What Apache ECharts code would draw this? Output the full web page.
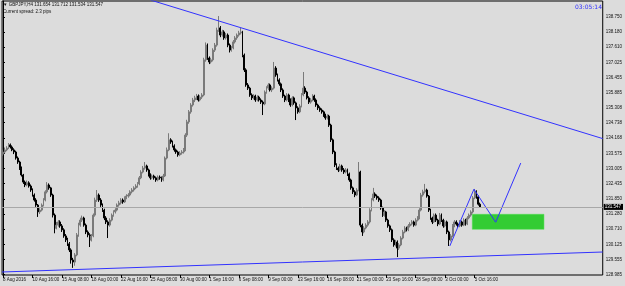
<!DOCTYPE html>
<html><head><meta charset="utf-8">
<script src="https://cdn.jsdelivr.net/npm/echarts@6/dist/echarts.min.js"></script>
<style>html,body{margin:0;padding:0;background:#dcdcdc}#c{width:625px;height:286px}</style>
</head><body><div id="c"></div>
<script>
const opens = [
133.55,133.63,133.71,133.78,133.90,133.82,133.71,133.63,133.40,133.25,
133.02,132.76,132.49,132.38,132.46,132.34,132.19,132.00,131.81,131.62,
131.36,131.43,131.62,131.81,132.12,132.38,132.27,132.00,131.24,130.75,
130.86,130.98,130.83,130.68,130.45,130.30,130.15,129.92,129.54,129.46,
129.73,130.49,130.86,131.05,131.13,130.86,130.60,130.49,130.30,130.45,
131.24,131.81,132.00,131.81,131.62,131.43,131.13,130.98,130.86,131.05,
131.24,131.36,131.43,131.62,131.70,131.81,131.74,131.89,131.96,132.00,
132.12,132.19,132.27,132.34,132.42,132.65,132.87,133.02,133.10,132.95,
132.76,132.65,132.72,132.65,132.57,132.68,132.65,132.57,132.72,133.40,
133.71,134.09,134.01,133.86,133.71,133.63,133.52,133.59,133.63,133.71,
134.27,134.77,135.15,135.41,135.60,135.68,135.75,135.60,135.71,135.79,
137.12,137.68,137.19,137.04,137.12,137.49,137.68,138.25,138.33,138.06,
138.18,137.95,138.06,137.68,137.49,137.57,137.80,137.95,138.06,138.14,
138.18,137.30,136.74,136.17,136.05,135.79,135.68,135.75,135.60,135.71,
135.60,135.52,135.45,135.90,136.05,136.17,135.98,136.05,136.81,136.55,
136.36,136.21,135.98,135.75,135.60,135.79,135.60,135.41,135.68,135.49,
135.30,135.15,135.37,135.79,136.05,135.90,135.68,135.52,135.60,135.75,
135.60,135.41,135.30,135.22,135.15,135.03,134.92,134.99,134.65,134.09,
133.63,133.14,133.02,132.95,133.10,132.95,132.87,132.95,132.80,132.57,
132.27,132.12,132.00,132.19,132.87,130.86,130.60,130.75,130.86,130.98,
131.43,131.81,132.04,131.96,131.89,131.81,131.51,131.24,131.36,131.05,
130.83,130.68,130.30,130.11,130.22,129.99,130.11,130.37,130.60,130.75,
130.68,130.83,130.90,130.98,130.86,131.05,131.13,131.43,132.00,132.12,
132.19,131.96,131.43,131.13,130.98,131.24,131.05,130.90,131.24,131.05,
130.83,130.98,130.60,130.30,130.45,130.83,130.98,130.90,130.83,130.98,
130.86,131.05,130.90,131.13,131.24,131.36,131.89,132.12,131.93,131.654];
const closes = [
133.63,133.71,133.78,133.90,133.82,133.71,133.63,133.40,133.25,133.02,
132.76,132.49,132.38,132.46,132.34,132.19,132.00,131.81,131.62,131.36,
131.43,131.62,131.81,132.12,132.38,132.27,132.00,131.24,130.75,130.86,
130.98,130.83,130.68,130.45,130.30,130.15,129.92,129.54,129.46,129.73,
130.49,130.86,131.05,131.13,130.86,130.60,130.49,130.30,130.45,131.24,
131.81,132.00,131.81,131.62,131.43,131.13,130.98,130.86,131.05,131.24,
131.36,131.43,131.62,131.70,131.81,131.74,131.89,131.96,132.00,132.12,
132.19,132.27,132.34,132.42,132.65,132.87,133.02,133.10,132.95,132.76,
132.65,132.72,132.65,132.57,132.68,132.65,132.57,132.72,133.40,133.71,
134.09,134.01,133.86,133.71,133.63,133.52,133.59,133.63,133.71,134.27,
134.77,135.15,135.41,135.60,135.68,135.75,135.60,135.71,135.79,137.12,
137.68,137.19,137.04,137.12,137.49,137.68,138.25,138.33,138.06,138.18,
137.95,138.06,137.68,137.49,137.57,137.80,137.95,138.06,138.14,138.18,
137.30,136.74,136.17,136.05,135.79,135.68,135.75,135.60,135.71,135.60,
135.52,135.45,135.90,136.05,136.17,135.98,136.05,136.81,136.55,136.36,
136.21,135.98,135.75,135.60,135.79,135.60,135.41,135.68,135.49,135.30,
135.15,135.37,135.79,136.05,135.90,135.68,135.52,135.60,135.75,135.60,
135.41,135.30,135.22,135.15,135.03,134.92,134.99,134.65,134.09,133.63,
133.14,133.02,132.95,133.10,132.95,132.87,132.95,132.80,132.57,132.27,
132.12,132.00,132.19,132.87,130.86,130.60,130.75,130.86,130.98,131.43,
131.81,132.04,131.96,131.89,131.81,131.51,131.24,131.36,131.05,130.83,
130.68,130.30,130.11,130.22,129.99,130.11,130.37,130.60,130.75,130.68,
130.83,130.90,130.98,130.86,131.05,131.13,131.43,132.00,132.12,132.19,
131.96,131.43,131.13,130.98,131.24,131.05,130.90,131.24,131.05,130.83,
130.98,130.60,130.30,130.45,130.83,130.98,130.90,130.83,130.98,130.86,
131.05,130.90,131.13,131.24,131.36,131.89,132.12,131.93,131.654,131.547];
const lows = [
133.48,133.58,133.66,133.74,133.76,133.66,133.55,133.34,133.18,132.95,
132.70,132.42,132.30,132.33,132.28,132.12,131.94,131.75,131.55,131.17,
131.28,131.38,131.57,131.76,132.06,132.20,131.93,131.15,130.55,130.70,
130.80,130.76,130.60,130.38,130.22,130.07,129.84,129.40,129.24,129.32,
129.68,130.42,130.80,130.98,130.80,130.52,130.40,130.03,130.24,130.40,
131.18,131.74,131.74,131.55,131.36,131.05,130.90,130.37,130.80,131.00,
131.18,131.30,131.38,131.56,131.64,131.67,131.70,131.84,131.90,131.95,
132.06,132.13,132.22,132.28,132.37,132.60,132.82,132.96,132.88,132.70,
132.58,132.60,132.58,132.50,132.52,132.58,132.50,132.52,132.68,133.35,
133.66,133.94,133.80,133.64,133.56,133.45,133.47,133.53,133.57,133.66,
134.20,134.70,135.08,135.35,135.52,135.60,135.54,135.55,135.64,135.74,
137.05,137.12,136.96,136.98,137.06,137.42,137.62,138.18,137.98,138.00,
137.88,137.89,137.60,137.40,137.43,137.52,137.74,137.88,138.00,138.08,
137.22,136.66,136.10,135.98,135.72,135.60,135.62,135.53,135.55,135.54,
135.45,135.03,135.40,135.84,135.98,135.92,135.90,136.00,136.48,136.30,
136.14,135.90,135.68,135.52,135.55,135.52,135.34,135.36,135.42,134.84,
135.08,135.10,135.32,135.74,135.83,135.62,135.45,135.46,135.55,135.53,
135.34,135.22,135.15,135.08,134.96,134.85,134.86,134.58,134.01,133.55,
133.06,132.95,132.87,132.90,132.88,132.80,132.82,132.72,132.50,132.20,
132.04,131.92,131.96,132.14,130.78,130.45,130.55,130.70,130.80,130.92,
131.38,131.76,131.89,131.82,131.74,131.44,131.17,131.18,130.98,130.76,
130.60,130.22,130.04,130.05,129.65,129.92,130.06,130.32,130.55,130.62,
130.63,130.77,130.85,130.80,130.82,131.00,131.08,131.38,131.94,132.06,
131.90,131.36,131.06,130.90,130.94,130.98,130.82,130.86,130.98,130.76,
130.78,130.52,130.07,130.24,130.40,130.78,130.84,130.76,130.78,130.80,
130.82,130.84,130.86,131.08,131.18,131.30,131.84,131.86,131.60,131.534];
const highs = [
133.72,133.80,133.85,133.97,133.95,133.88,133.77,133.68,133.46,133.30,
133.08,132.80,132.55,132.55,132.52,132.40,132.25,132.06,131.88,131.66,
131.50,131.68,131.88,132.18,132.49,132.44,132.31,132.05,131.30,130.98,
131.05,131.04,130.90,130.74,130.52,130.38,130.22,129.98,129.62,129.80,
130.56,130.95,131.14,131.22,131.18,130.92,130.66,130.55,130.52,131.30,
131.90,132.19,132.06,131.88,131.68,131.48,131.20,131.04,131.12,131.30,
131.42,131.50,131.68,131.78,131.88,131.87,131.95,132.03,132.07,132.18,
132.26,132.33,132.41,132.49,132.72,132.94,133.10,133.25,133.15,133.00,
132.82,132.78,132.77,132.70,132.74,132.74,132.70,132.80,133.46,133.80,
134.34,134.15,134.06,133.92,133.76,133.68,133.66,133.70,133.78,134.34,
134.85,135.22,135.48,135.68,135.76,135.83,135.81,135.78,135.86,137.20,
137.78,137.74,137.25,137.20,137.56,137.76,138.34,138.78,138.40,138.26,
138.24,138.14,138.12,137.74,137.64,137.87,138.02,138.12,138.22,138.33,
138.22,137.36,136.80,136.24,136.10,135.85,135.82,135.80,135.78,135.76,
135.66,135.58,135.96,136.12,136.24,136.22,136.12,137.04,136.88,136.60,
136.42,136.26,136.04,135.80,135.86,135.84,135.66,135.74,135.73,135.54,
135.36,135.44,135.86,136.66,136.12,135.95,135.74,135.67,135.82,135.80,
135.66,135.46,135.36,135.28,135.20,135.08,135.06,135.04,134.70,134.14,
133.68,133.20,133.08,133.18,133.15,133.02,133.02,133.00,132.85,132.62,
132.32,132.18,132.26,133.25,132.92,130.92,130.82,130.93,131.05,131.50,
131.88,132.27,132.10,132.02,131.95,131.86,131.56,131.43,131.40,131.10,
130.88,130.73,130.36,130.30,130.28,130.18,130.44,130.68,130.82,130.80,
130.90,130.97,131.05,131.03,131.12,131.20,131.50,132.08,132.20,132.42,
132.24,132.00,131.48,131.18,131.30,131.30,131.10,131.32,131.30,131.10,
131.05,131.03,130.65,130.52,130.90,131.05,131.04,130.96,131.05,131.03,
131.12,131.10,131.20,131.30,131.42,131.96,132.23,132.18,131.98,131.712];

const slotCount = 326;            // candle slots incl. empty future area
const xTickStep = 16;
const xTickLabels = ['8 Aug 2016','10 Aug 16:00','15 Aug 08:00','18 Aug 00:00','22 Aug 16:00','25 Aug 08:00',
  '30 Aug 00:00','1 Sep 16:00','6 Sep 08:00','9 Sep 00:00','13 Sep 16:00','16 Sep 08:00','21 Sep 00:00',
  '23 Sep 16:00','28 Sep 08:00','3 Oct 00:00','5 Oct 16:00'];
const yTickValues = [138.750,138.180,137.610,137.025,136.455,135.885,135.308,134.738,134.168,133.575,
  133.005,132.435,131.850,131.280,130.710,130.125,129.555,128.985];
const lastPrice = 131.547;
const resistanceLine = [[80.0,139.388],[325.5,134.137]];
const supportLine = [[-0.5,129.084],[325.5,129.841]];
const projection = [[242.5,130.07],[255.6,132.22],[267.4,130.97],[281.0,133.21]];
const zone = [[254.7,131.27],[293.6,130.70]];

const cats = Array.from({length: slotCount}, (_, i) => String(i));
const candleData = opens.map((o, i) => [o, closes[i], lows[i], highs[i]]);
const tickInt = (idx) => idx % xTickStep === 0 && idx / xTickStep < xTickLabels.length;
const small = {fontSize: 4.5, fontFamily: 'Liberation Sans', color: '#111'};
const blue = '#3232ff';

const chart = echarts.init(document.getElementById('c'), null, {renderer: 'canvas'});
chart.setOption({
  animation: false,
  backgroundColor: '#dcdcdc',
  grid: {left: 2, right: 21, top: 1, bottom: 11, show: true, borderColor: '#000', borderWidth: 1, containLabel: false},
  xAxis: [{
    type: 'category', data: cats, boundaryGap: true,
    axisLine: {show: false},
    axisTick: {show: true, interval: tickInt, alignWithLabel: true, length: 3, lineStyle: {color: '#000', width: 1}},
    axisLabel: Object.assign({show: true, interval: tickInt, align: 'left', margin: 2,
      formatter: (v, i) => xTickLabels[i / xTickStep] || ''}, small),
    splitLine: {show: false}
  }, {
    type: 'value', min: -0.5, max: slotCount - 0.5, show: false
  }],
  yAxis: {
    type: 'value', position: 'right', min: 128.97, max: 139.35,
    axisLine: {show: true, lineStyle: {color: '#000'}},
    axisTick: {show: true, customValues: yTickValues, length: 2, lineStyle: {color: '#000'}},
    axisLabel: Object.assign({customValues: yTickValues, margin: 3, formatter: v => v.toFixed(3)}, small),
    splitLine: {show: false}
  },
  series: [
    {
      type: 'candlestick', data: candleData, barWidth: 1.4, silent: true,
      itemStyle: {color: '#7a7a7a', color0: '#000000', borderColor: '#7a7a7a', borderColor0: '#000000', borderWidth: 1},
      markLine: {
        silent: true, symbol: ['none', 'none'], animation: false,
        lineStyle: {color: '#a8a8a8', width: 1, type: 'solid'},
        label: Object.assign({show: true, position: 'end', distance: 1, formatter: lastPrice.toFixed(3),
          backgroundColor: '#000', padding: [1, 2, 0, 1]}, small, {color: '#fff'}),
        data: [{yAxis: lastPrice}]
      }
    },
    {type: 'line', xAxisIndex: 1, data: resistanceLine, symbol: 'none', silent: true, clip: true,
      lineStyle: {color: blue, width: 1}},
    {type: 'line', xAxisIndex: 1, data: supportLine, symbol: 'none', silent: true, clip: true,
      lineStyle: {color: blue, width: 1}},
    {type: 'line', xAxisIndex: 1, data: projection, symbol: 'none', silent: true, clip: true, z: 4,
      lineStyle: {color: blue, width: 1},
      markArea: {silent: true, itemStyle: {color: '#33cc33', borderColor: '#4ee04e', borderWidth: 0.5},
        data: [[{coord: zone[0]}, {coord: zone[1]}]]}}
  ],
  graphic: [
    {type: 'text', left: 3, top: 2.5, style: {text: '\u25BC GBPJPY,H4 131.654 131.712 131.534 131.547', fontSize: 4.5, fontFamily: 'Liberation Sans', fill: '#111'}},
    {type: 'text', left: 3, top: 9.5, style: {text: 'Current spread: 2.3 pips', fontSize: 4.5, fontFamily: 'Liberation Sans', fill: '#111'}},
    {type: 'text', right: 23, top: 4, style: {text: '03:05:14', fontSize: 6, fontFamily: 'DejaVu Sans', fill: '#3232ff'}}
  ]
});
</script></body></html>
